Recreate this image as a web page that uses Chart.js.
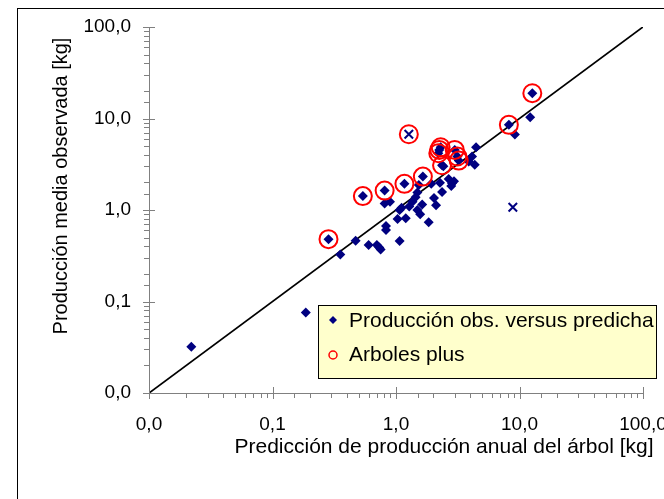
<!DOCTYPE html>
<html>
<head>
<meta charset="utf-8">
<script src="https://cdn.jsdelivr.net/npm/chart.js@4.4.0/dist/chart.umd.min.js"></script>
<style>
  html, body { margin: 0; padding: 0; background: #fff; }
  #wrap { width: 664px; height: 499px; position: relative; }
</style>
</head>
<body>
<div id="wrap"><canvas id="chart-prod" width="664" height="499"></canvas></div>
<script>
// Observed vs predicted yield per tree [kg], both axes log10
const predAll = [0.022, 0.186, 0.284, 0.354, 0.471, 0.539, 0.60, 0.70, 0.733, 0.751,
                 0.809, 0.809, 0.894, 0.83, 0.83, 1.03, 1.07, 1.07, 1.11, 1.17,
                 1.20, 1.28, 1.36, 1.44, 1.49, 1.49, 1.57, 1.63, 1.65, 1.53,
                 1.84, 1.93, 2.03, 2.11, 2.27, 2.36, 2.24, 2.30, 2.20, 2.36,
                 2.42, 2.99, 3.14, 3.22, 2.67, 2.84, 2.95, 2.80, 3.88, 4.13,
                 4.34, 4.45, 8.20, 9.17, 12.2, 12.7];
const obsAll  = [0.032, 0.076, 0.48, 0.327, 0.461, 1.42, 0.414, 0.414, 0.39, 0.371,
                 1.63, 1.18, 1.23, 0.668, 0.604, 0.796, 0.458, 1.0, 1.06, 1.93,
                 0.81, 1.09, 1.23, 1.38, 1.55, 1.0, 0.90, 1.15, 2.32, 1.88,
                 0.733, 1.93, 1.35, 1.13, 1.99, 1.57, 4.54, 4.85, 4.17, 3.08,
                 3.0, 4.54, 3.84, 3.47, 2.18, 1.96, 2.06, 1.83, 3.38, 3.84,
                 3.13, 4.85, 8.53, 6.69, 10.35, 18.9];

// "Arboles plus" trees, ringed in red
const predPlus = [0.284, 0.539, 0.809, 1.17, 1.27, 1.65, 2.24, 2.30, 2.20, 2.36, 2.99, 3.14, 3.22, 8.20, 12.7];
const obsPlus  = [0.48, 1.42, 1.63, 1.93, 6.73, 2.32, 4.54, 4.85, 4.17, 3.08, 4.54, 3.84, 3.47, 8.53, 18.9];

// excluded trees (crosses)
const predOut = [1.27, 8.83];
const obsOut  = [6.73, 1.07];

// 1:1 reference line
const diagLine = [0.01, 100];

const decades = [0.01, 0.1, 1, 10, 100];
const tickLabels = ['0,0', '0,1', '1,0', '10,0', '100,0'];
const seriesLabels = ['Producción obs. versus predicha', 'Arboles plus'];
const xTitle = 'Predicción de producción anual del árbol [kg]';
const yTitle = 'Producción media observada [kg]';

const FONT = "'Liberation Sans', Arial, sans-serif";
const NAVY = '#000080';
const RED = '#ff0000';
const AXIS = '#808080';

const zip = (xs, ys) => xs.map((x, i) => ({ x: x, y: ys[i] }));

function tickLabel(value) {
    const i = decades.findIndex(d => Math.abs(d - value) / d < 1e-6);
    return i >= 0 ? tickLabels[i] : '';
}

// outer frame, axis titles, tick marks and the boxed legend
const decorPlugin = {
    id: 'decor',
    beforeDraw(chart) {
        const ctx = chart.ctx;
        ctx.save();
        ctx.fillStyle = '#fff';
        ctx.fillRect(0, 0, chart.width, chart.height);
        ctx.strokeStyle = '#000';
        ctx.lineWidth = 1;
        ctx.strokeRect(17.5, 8.5, 800, 700);
        ctx.restore();
    },
    afterDraw(chart) {
        const ctx = chart.ctx;
        const xs = chart.scales.x;
        const ys = chart.scales.y;
        const isMajor = v => decades.some(d => Math.abs(d - v) / d < 1e-6);

        ctx.save();
        ctx.strokeStyle = AXIS;
        ctx.lineWidth = 1;
        ctx.beginPath();
        xs.ticks.forEach(t => {
            const px = Math.round(xs.getPixelForValue(t.value)) + 0.5;
            if (isMajor(t.value)) {
                ctx.moveTo(px, xs.top - 6);
                ctx.lineTo(px, xs.top + 6);
            } else {
                ctx.moveTo(px, xs.top);
                ctx.lineTo(px, xs.top + 5);
            }
        });
        ys.ticks.forEach(t => {
            const py = Math.round(ys.getPixelForValue(t.value)) + 0.5;
            if (isMajor(t.value)) {
                ctx.moveTo(ys.right - 6, py);
                ctx.lineTo(ys.right + 6, py);
            } else {
                ctx.moveTo(ys.right - 5, py);
                ctx.lineTo(ys.right, py);
            }
        });
        ctx.stroke();

        // axis titles
        ctx.fillStyle = '#000';
        ctx.textAlign = 'center';
        ctx.textBaseline = 'middle';
        ctx.font = '21px ' + FONT;
        ctx.fillText(xTitle, 444, 447);
        ctx.font = '20px ' + FONT;
        ctx.translate(61, 186);
        ctx.rotate(-Math.PI / 2);
        ctx.fillText(yTitle, 0, 0);
        ctx.setTransform(1, 0, 0, 1, 0, 0);

        // legend box
        const lx = 318, ly = 305, lw = 338, lh = 73;
        ctx.fillStyle = '#ffffcc';
        ctx.fillRect(lx, ly, lw, lh);
        ctx.strokeStyle = '#000';
        ctx.strokeRect(lx + 0.5, ly + 0.5, lw, lh);

        const ds = chart.data.datasets;
        // diamond marker
        ctx.fillStyle = ds[0].backgroundColor;
        ctx.beginPath();
        ctx.moveTo(333, 316);
        ctx.lineTo(337, 320);
        ctx.lineTo(333, 324);
        ctx.lineTo(329, 320);
        ctx.closePath();
        ctx.fill();
        // ring marker
        ctx.strokeStyle = ds[1].borderColor;
        ctx.lineWidth = 1.5;
        ctx.beginPath();
        ctx.arc(333, 355, 4, 0, Math.PI * 2);
        ctx.stroke();

        ctx.fillStyle = '#000';
        ctx.font = '21px ' + FONT;
        ctx.textAlign = 'left';
        ctx.textBaseline = 'middle';
        ctx.fillText(ds[0].label, 349, 321);
        ctx.fillText(ds[1].label, 349, 355);
        ctx.restore();
    }
};

new Chart(document.getElementById('chart-prod'), {
    type: 'scatter',
    data: {
        datasets: [
            {
                label: seriesLabels[0],
                data: zip(predAll, obsAll),
                pointStyle: 'rectRot',
                pointRadius: 5,
                backgroundColor: NAVY,
                borderColor: NAVY,
                borderWidth: 0,
                order: 2
            },
            {
                label: seriesLabels[1],
                data: zip(predPlus, obsPlus),
                pointStyle: 'circle',
                pointRadius: 9,
                backgroundColor: 'rgba(0,0,0,0)',
                borderColor: RED,
                borderWidth: 2,
                order: 1
            },
            {
                label: 'excluidos',
                data: zip(predOut, obsOut),
                pointStyle: 'crossRot',
                pointRadius: 6,
                borderColor: NAVY,
                borderWidth: 2,
                order: 3
            },
            {
                label: '1:1',
                data: zip(diagLine, diagLine),
                showLine: true,
                borderColor: '#000',
                borderWidth: 1.8,
                pointRadius: 0,
                order: 4
            }
        ]
    },
    options: {
        responsive: false,
        devicePixelRatio: 1,
        animation: false,
        layout: { padding: { top: 27, right: 21, bottom: 0, left: 0 } },
        plugins: {
            legend: { display: false },
            tooltip: { enabled: false }
        },
        scales: {
            x: {
                type: 'logarithmic',
                position: 'bottom',
                min: 0.01,
                max: 100,
                grid: { display: true, drawOnChartArea: false, drawTicks: false },
                border: { display: true, color: AXIS, width: 1 },
                ticks: {
                    autoSkip: false,
                    maxRotation: 0,
                    padding: 20,
                    color: '#000',
                    font: { family: FONT, size: 19 },
                    callback: tickLabel
                },
                afterFit(scale) {
                    scale.height = 106;
                    scale.paddingLeft = 0;
                    scale.paddingRight = 0;
                }
            },
            y: {
                type: 'logarithmic',
                min: 0.01,
                max: 100,
                grid: { display: true, drawOnChartArea: false, drawTicks: false },
                border: { display: true, color: AXIS, width: 1 },
                ticks: {
                    autoSkip: false,
                    padding: 18,
                    color: '#000',
                    font: { family: FONT, size: 19 },
                    callback: tickLabel
                },
                afterFit(scale) {
                    scale.width = 149;
                    scale.paddingTop = 0;
                    scale.paddingBottom = 0;
                }
            }
        }
    },
    plugins: [decorPlugin]
});
</script>
</body>
</html>
